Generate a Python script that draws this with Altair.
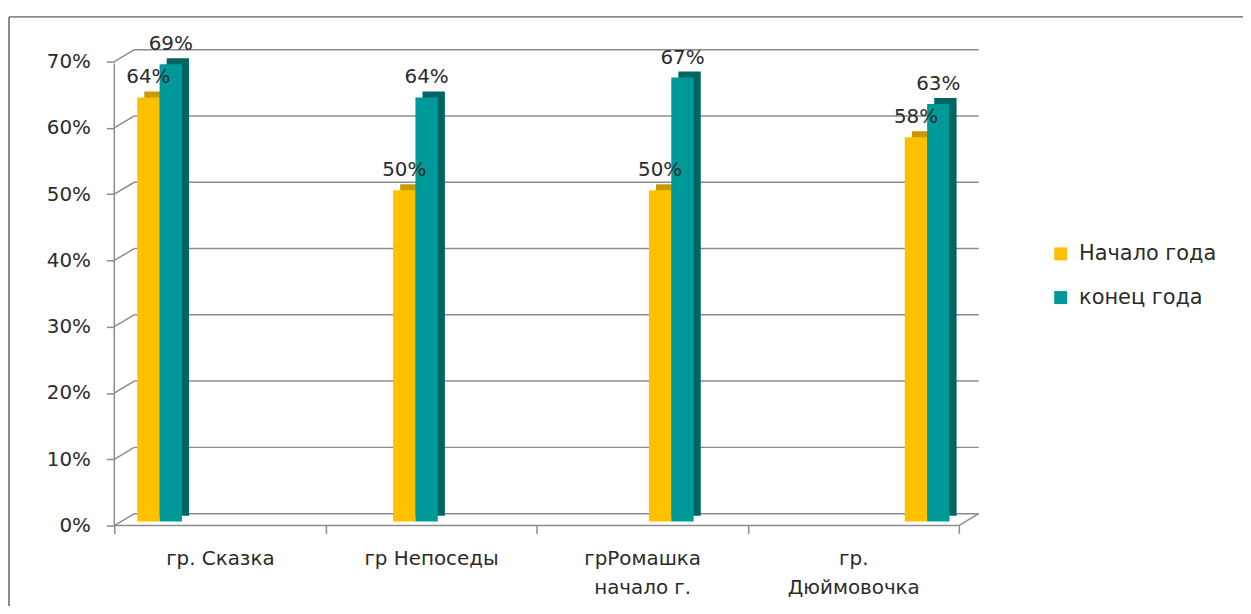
import altair as alt
import pandas as pd

categories = ["гр. Сказка", "гр Непоседы", "грРомашка\nначало г.", "гр.\nДюймовочка"]
series = ["Начало года", "конец года"]
start_values = [0.64, 0.50, 0.50, 0.58]
end_values = [0.69, 0.64, 0.67, 0.63]
y_ticks = [0.0, 0.1, 0.2, 0.3, 0.4, 0.5, 0.6, 0.7]
front_colors = ["#FFC000", "#009999"]
dark_colors = ["#C89A00", "#006464"]

GRID = "#8c8c8c"
TEXT = "#2b2b2b"
FONT = "DejaVu Sans"
FS = 20

rows = []
for i, c in enumerate(categories):
    for j, vals in enumerate([start_values, end_values]):
        rows.append({"cat": c, "series": series[j], "slot": 2 * i + j, "value": vals[i]})
df = pd.DataFrame(rows)
ticks_df = pd.DataFrame({"v": y_ticks})
zero_df = pd.DataFrame({"v": [0.0], "top": [0.7]})

yscale = alt.Scale(domain=[0, 0.7], nice=False, zero=True)
xscale = alt.Scale(domain=categories, range=[0, 850], paddingInner=0, paddingOuter=0)

y_axis = alt.Axis(
    title=None,
    values=y_ticks,
    format=".0%",
    domain=False,
    grid=False,
    tickSize=8,
    tickColor=GRID,
    tickWidth=1.5,
    tickOffset=4,
    labelPadding=16,
    labelFontSize=FS,
    labelColor=TEXT,
)


def Y(field):
    return alt.Y(field, scale=yscale, axis=y_axis)


def xoff_scale(align):
    return alt.Scale(
        type="band", domain=list(range(8)), paddingInner=0, paddingOuter=0.722, align=align
    )


x_enc = alt.X(
    "cat:N",
    sort=categories,
    scale=xscale,
    axis=alt.Axis(
        title=None,
        labelExpr="split(datum.label, '\\n')",
        labelAngle=0,
        labelFontSize=FS,
        labelColor=TEXT,
        labelLineHeight=29,
        labelPadding=15,
        labelLimit=400,
        domain=False,
        ticks=True,
        tickBand="extent",
        tickSize=8,
        tickColor=GRID,
        tickWidth=1.5,
        offset=4,
        grid=False,
    ),
)

# back-wall gridlines
grid = alt.Chart(ticks_df).mark_rule(color=GRID, strokeWidth=1.5, yOffset=-8).encode(
    y=Y("v:Q"),
    x=alt.value(20),
    x2=alt.value(870),
)

# diagonal connectors on the left side wall
conn = alt.Chart(ticks_df).mark_rule(color=GRID, strokeWidth=1.5, yOffset=4, y2Offset=-8).encode(
    y=Y("v:Q"),
    y2="v:Q",
    x=alt.value(0),
    x2=alt.value(20),
)

# floor front edge
floor = alt.Chart(zero_df).mark_rule(color=GRID, strokeWidth=1.5, yOffset=4).encode(
    y=Y("v:Q"),
    x=alt.value(0),
    x2=alt.value(850),
)
floor_side = alt.Chart(zero_df).mark_rule(color=GRID, strokeWidth=1.5, yOffset=4, y2Offset=-8).encode(
    y=Y("v:Q"),
    y2="v:Q",
    x=alt.value(850),
    x2=alt.value(870),
)
left_edge = alt.Chart(zero_df).mark_rule(color=GRID, strokeWidth=1.5, yOffset=4, y2Offset=6).encode(
    y=Y("v:Q"),
    y2="top:Q",
    x=alt.value(0),
)

# outer frame of the chart
frame_top = alt.Chart(zero_df).mark_rule(color=GRID, strokeWidth=2).encode(
    x=alt.value(-106), x2=alt.value(1140), y=alt.value(-41)
)
frame_left = alt.Chart(zero_df).mark_rule(color=GRID, strokeWidth=2).encode(
    x=alt.value(-106), y=alt.value(-41), y2=alt.value(560)
)

# bar depth (side + top faces)
shadow = alt.Chart(df).mark_bar(yOffset=-6).encode(
    x=x_enc,
    xOffset=alt.XOffset("slot:O", scale=xoff_scale(0.93)),
    y=Y("value:Q"),
    color=alt.Color("series:N", scale=alt.Scale(domain=series, range=dark_colors), legend=None),
)

bars = alt.Chart(df).mark_bar().encode(
    x=x_enc,
    xOffset=alt.XOffset("slot:O", scale=xoff_scale(0.71)),
    y=Y("value:Q"),
    color=alt.Color(
        "series:N",
        scale=alt.Scale(domain=series, range=front_colors),
        legend=alt.Legend(
            title=None,
            orient="none",
            legendX=942,
            legendY=187,
            symbolType="square",
            symbolSize=170,
            symbolStrokeWidth=0,
            labelFontSize=21,
            labelColor=TEXT,
            rowPadding=22,
            labelOffset=8,
        ),
    ),
)

labels = alt.Chart(df).mark_text(
    baseline="alphabetic", dy=-14, fontSize=FS, color=TEXT, font=FONT
).encode(
    x=x_enc,
    xOffset=alt.XOffset("slot:O", scale=xoff_scale(0.71)),
    y=Y("value:Q"),
    text=alt.Text("value:Q", format=".0%"),
)

chart = (
    alt.layer(frame_top, frame_left, grid, conn, floor, floor_side, left_edge, shadow, bars, labels)
    .resolve_scale(xOffset="independent", color="independent")
    .properties(
        width=870,
        height=467,
        padding={"left": 107, "top": 48, "right": 266, "bottom": 83},
        autosize=alt.AutoSizeParams(type="none"),
    )
    .configure(font=FONT)
    .configure_view(stroke=None)
)

chart.save("out.html", embed_options={"renderer": "svg", "actions": False})
